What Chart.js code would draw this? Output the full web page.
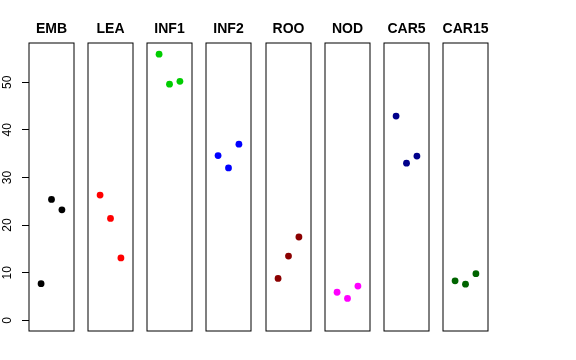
<!DOCTYPE html>
<html>
<head>
<meta charset="utf-8">
<script src="https://cdn.jsdelivr.net/npm/chart.js@4.4.0/dist/chart.umd.min.js"></script>
<style>
  html, body { margin: 0; padding: 0; background: #fff; }
  #wrap { position: relative; width: 576px; height: 360px; }
  .panel { position: absolute; top: 0; height: 360px; }
</style>
</head>
<body>
<div id="wrap"></div>
<script>
const panels = ['EMB', 'LEA', 'INF1', 'INF2', 'ROO', 'NOD', 'CAR5', 'CAR15'];
const colors = ['#000000', '#FF0000', '#00CD00', '#0000FF', '#8B0000', '#FF00FF', '#00008B', '#006400'];
const xPos = [1, 2, 3];
const emb = [7.7, 25.4, 23.2];
const lea = [26.3, 21.4, 13.1];
const inf1 = [55.9, 49.6, 50.2];
const inf2 = [34.6, 32.0, 37.0];
const roo = [8.8, 13.5, 17.5];
const nod = [5.9, 4.6, 7.2];
const car5 = [42.9, 33.0, 34.5];
const car15 = [8.3, 7.6, 9.8];
const yTicks = [0, 10, 20, 30, 40, 50];

const seriesValues = [emb, lea, inf1, inf2, roo, nod, car5, car15];

Chart.defaults.font.family = "'Liberation Sans', Arial, sans-serif";
Chart.defaults.color = '#000';

const FONT = "'Liberation Sans', Arial, sans-serif";
const AXIS_W = 29;
const BOX_W = 45;
const STEP = 59.14;

// box round each panel plus its title
const panelFrame = {
  id: 'panelFrame',
  afterDatasetsDraw(chart, args, opts) {
    const { ctx, chartArea: a } = chart;
    ctx.save();
    ctx.strokeStyle = '#000';
    ctx.lineWidth = 1;
    ctx.strokeRect(a.left, a.top, a.right - a.left, a.bottom - a.top);
    ctx.font = 'bold 14px ' + FONT;
    ctx.fillStyle = '#000';
    ctx.textAlign = 'center';
    ctx.textBaseline = 'middle';
    ctx.fillText(opts.text, (a.left + a.right) / 2, 29);
    ctx.restore();
  }
};

const wrap = document.getElementById('wrap');

panels.forEach((name, i) => {
  const first = i === 0;
  const div = document.createElement('div');
  div.className = 'panel';
  const left = first ? 0 : Math.round(AXIS_W + i * STEP) - 1;
  const width = first ? AXIS_W + BOX_W + 1 : BOX_W + 2;
  div.style.left = left + 'px';
  div.style.width = width + 'px';
  const canvas = document.createElement('canvas');
  div.appendChild(canvas);
  wrap.appendChild(div);

  const yScale = {
    type: 'linear',
    display: first,
    position: 'left',
    min: -2.24,
    max: 58.24,
    afterBuildTicks: s => { s.ticks = yTicks.map(v => ({ value: v })); },
    border: { display: false },
    grid: { drawOnChartArea: false, drawTicks: true, tickLength: 7, color: '#000' },
    ticks: {
      minRotation: 90,
      maxRotation: 90,
      crossAlign: 'center',
      padding: 8,
      color: '#000',
      font: { size: 12 }
    }
  };
  if (first) yScale.afterFit = s => { s.width = AXIS_W; };

  new Chart(canvas.getContext('2d'), {
    type: 'scatter',
    data: {
      datasets: [{
        label: name,
        data: xPos.map((x, j) => ({ x: x, y: seriesValues[i][j] })),
        backgroundColor: colors[i],
        borderColor: colors[i],
        borderWidth: 0,
        pointRadius: 3.4,
        pointHoverRadius: 3.4
      }]
    },
    options: {
      responsive: true,
      maintainAspectRatio: false,
      animation: false,
      devicePixelRatio: 1,
      layout: { autoPadding: false, padding: { top: 43, bottom: 29, left: first ? 0 : 1, right: 1 } },
      plugins: {
        legend: { display: false },
        tooltip: { enabled: false },
        panelFrame: { text: name }
      },
      scales: {
        x: { type: 'linear', display: false, min: -0.16, max: 4.16 },
        y: yScale
      }
    },
    plugins: [panelFrame]
  });
});
</script>
</body>
</html>
